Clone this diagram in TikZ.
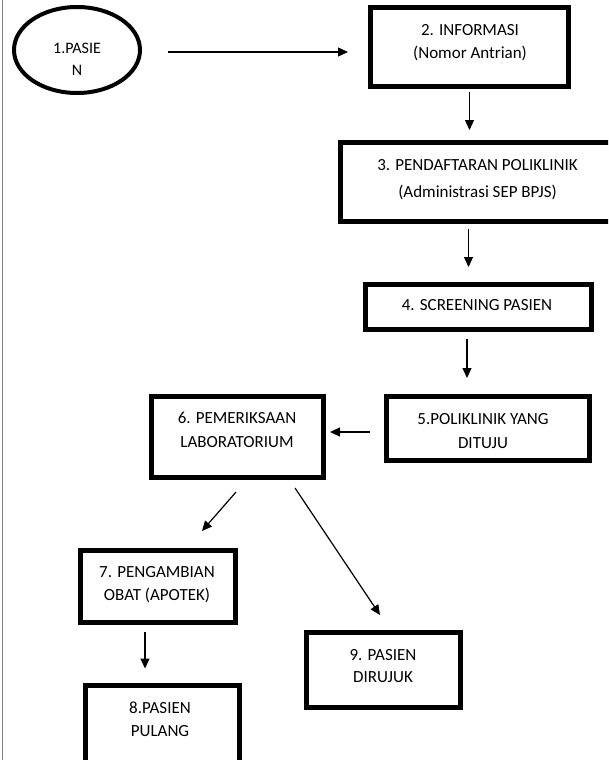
\documentclass[tikz,border=0pt]{standalone}
\usepackage{fontspec}
\setmainfont{Carlito}
\usetikzlibrary{arrows.meta,shapes.geometric}
\tikzset{
  boxnode/.style={draw=black, line width=5pt, rectangle, inner sep=0pt},
  ovalnode/.style={draw=black, line width=4pt, ellipse, inner sep=0pt},
  txt/.style={font=\fontsize{17}{20}\selectfont, anchor=base, inner sep=0pt, text=black},
  txtsmall/.style={font=\fontsize{16}{19}\selectfont, anchor=base, inner sep=0pt, text=black},
  arr/.style={-{Triangle[length=10pt,width=9pt]}, line width=1.2pt, draw=black},
}
\begin{document}
\begin{tikzpicture}[x=1pt,y=-1pt]
\useasboundingbox (0,0) rectangle (608,760);
\clip (0,0) rectangle (608,760);
\fill[white] (0,0) rectangle (608,760);
\draw[line width=1.4pt, draw=black!50] (2.6,0) -- (2.6,760);

% shapes
\node[ovalnode, minimum width=126pt, minimum height=86pt] (e1) at (77,50) {};
\node[boxnode, minimum width=198pt, minimum height=79pt] (b2) at (469.5,47) {};
\node[boxnode, minimum width=300pt, minimum height=79pt] (b3) at (490.5,182) {};
\node[boxnode, minimum width=226pt, minimum height=45pt] (b4) at (478.5,307) {};
\node[boxnode, minimum width=203pt, minimum height=64pt] (b5) at (488,428.5) {};
\node[boxnode, minimum width=172pt, minimum height=81pt] (b6) at (237.5,437) {};
\node[boxnode, minimum width=155pt, minimum height=72pt] (b7) at (158,586.5) {};
\node[boxnode, minimum width=154pt, minimum height=113pt] (b8) at (162.5,741.5) {};
\node[boxnode, minimum width=154pt, minimum height=75pt] (b9) at (383.5,670) {};

% texts
\node[txtsmall] (t1a) at (77,53) {1.PASIE};
\node[txtsmall] (t1b) at (77,75) {N};
\node[txt] (t2a) at (470,35.5) {2. INFORMASI};
\node[txt] (t2b) at (470,58.5) {(Nomor Antrian)};
\node[txt] (t3a) at (477.5,170.5) {3. PENDAFTARAN POLIKLINIK};
\node[txt] (t3b) at (477.5,197.5) {(Administrasi SEP BPJS)};
\node[txt] (t4) at (477,310.5) {4. SCREENING PASIEN};
\node[txt] (t5a) at (483,424.5) {5.POLIKLINIK YANG};
\node[txt] (t5b) at (483,448.5) {DITUJU};
\node[txt] (t6a) at (237,423.5) {6. PEMERIKSAAN};
\node[txt] (t6b) at (237,447.5) {LABORATORIUM};
\node[txt] (t7a) at (157,577.5) {7. PENGAMBIAN};
\node[txt] (t7b) at (157,600.5) {OBAT (APOTEK)};
\node[txt] (t8a) at (160,713.5) {8.PASIEN};
\node[txt] (t8b) at (160,736.5) {PULANG};
\node[txt] (t9a) at (383,660.5) {9. PASIEN};
\node[txt] (t9b) at (383,682.5) {DIRUJUK};

% connectors
\draw[arr, shorten <=26pt, shorten >=20pt] ([yshift=-2pt]e1.east) -- ([yshift=-2pt]e1.east -| b2.west);
\draw[arr, shorten <=3pt, shorten >=10pt] (b2.south) -- (b2.south |- b3.north);
\draw[arr, shorten <=5pt, shorten >=15pt] ([xshift=-22pt]b3.south) -- ([xshift=-22pt]b3.south |- b4.north);
\draw[arr, shorten <=7pt, shorten >=16pt] ([xshift=-11.5pt]b4.south) -- ([xshift=-11.5pt]b4.south |- b5.north);
\draw[arr, shorten <=14pt, shorten >=4pt] ([yshift=-3.5pt]b5.west) -- ([yshift=-3.5pt]b5.west -| b6.east);
\draw[arr] ([xshift=-1.5pt,yshift=-12pt]b6.south) -- ([xshift=44pt,yshift=17pt]b7.north);
\draw[arr] ([xshift=57.5pt,yshift=-8pt]b6.south) -- ([xshift=-3.5pt,yshift=15pt]b9.north);
\draw[arr, shorten <=7pt, shorten >=14pt] ([xshift=-13pt]b7.south) -- ([xshift=-13pt]b7.south |- b8.north);
\end{tikzpicture}
\end{document}
